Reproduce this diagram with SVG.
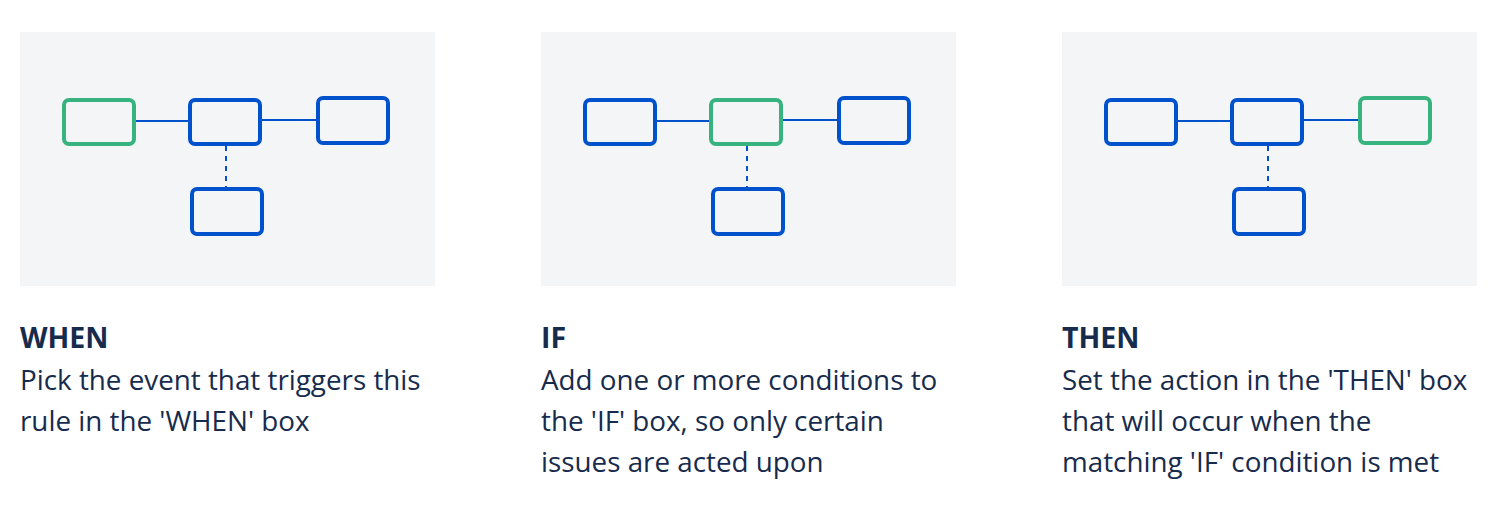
<svg xmlns="http://www.w3.org/2000/svg" width="1504" height="506" viewBox="0 0 1504 506">
<defs>
<style>
.bg{fill:#F4F5F7}
.box{fill:none;stroke:#0052CC;stroke-width:4}
.sel{fill:none;stroke:#36B37E;stroke-width:4}
.ln{stroke:#0052CC;stroke-width:2;fill:none}
.dash{stroke:#0052CC;stroke-width:2;stroke-dasharray:5 5;fill:none}
.title{font-family:"Open Sans","Noto Sans",sans-serif;font-weight:700;font-size:28.5px;fill:#172B4D}
.body{font-family:"Open Sans","Noto Sans",sans-serif;font-size:27.8px;fill:#172B4D}
</style>
</defs>
<rect width="1504" height="506" fill="#FFFFFF"/>

<g id="panel-when">
<rect class="bg" x="20" y="32" width="415" height="254"/>
<g id="connectors-when">
<line class="ln" x1="136" y1="121" x2="188" y2="121"/>
<line class="ln" x1="262" y1="120" x2="316" y2="120"/>
<line class="dash" x1="226" y1="146" x2="226" y2="188"/>
</g>
<g id="when-n1"><rect class="sel" x="64" y="100" width="70" height="44" rx="5"/></g>
<g id="when-n2"><rect class="box" x="190" y="100" width="70" height="44" rx="5"/></g>
<g id="when-n3"><rect class="box" x="318" y="98" width="70" height="45" rx="5"/></g>
<g id="when-n4"><rect class="box" x="192" y="189" width="70" height="45" rx="5"/></g>
<text class="title" x="20" y="348">WHEN</text>
<text class="body" x="20" y="390">Pick the event that triggers this</text>
<text class="body" x="20" y="431">rule in the 'WHEN' box</text>
</g>

<g id="panel-if">
<rect class="bg" x="541" y="32" width="415" height="254"/>
<g id="connectors-if">
<line class="ln" x1="657" y1="121" x2="709" y2="121"/>
<line class="ln" x1="783" y1="120" x2="837" y2="120"/>
<line class="dash" x1="747" y1="146" x2="747" y2="188"/>
</g>
<g id="if-n1"><rect class="box" x="585" y="100" width="70" height="44" rx="5"/></g>
<g id="if-n2"><rect class="sel" x="711" y="100" width="70" height="44" rx="5"/></g>
<g id="if-n3"><rect class="box" x="839" y="98" width="70" height="45" rx="5"/></g>
<g id="if-n4"><rect class="box" x="713" y="189" width="70" height="45" rx="5"/></g>
<text class="title" x="541" y="348">IF</text>
<text class="body" x="541" y="390">Add one or more conditions to</text>
<text class="body" x="541" y="431">the 'IF' box, so only certain</text>
<text class="body" x="541" y="472">issues are acted upon</text>
</g>

<g id="panel-then">
<rect class="bg" x="1062" y="32" width="415" height="254"/>
<g id="connectors-then">
<line class="ln" x1="1178" y1="121" x2="1230" y2="121"/>
<line class="ln" x1="1304" y1="120" x2="1358" y2="120"/>
<line class="dash" x1="1268" y1="146" x2="1268" y2="188"/>
</g>
<g id="then-n1"><rect class="box" x="1106" y="100" width="70" height="44" rx="5"/></g>
<g id="then-n2"><rect class="box" x="1232" y="100" width="70" height="44" rx="5"/></g>
<g id="then-n3"><rect class="sel" x="1360" y="98" width="70" height="45" rx="5"/></g>
<g id="then-n4"><rect class="box" x="1234" y="189" width="70" height="45" rx="5"/></g>
<text class="title" x="1062" y="348">THEN</text>
<text class="body" x="1062" y="390">Set the action in the 'THEN' box</text>
<text class="body" x="1062" y="431">that will occur when the</text>
<text class="body" x="1062" y="472">matching 'IF' condition is met</text>
</g>
</svg>
